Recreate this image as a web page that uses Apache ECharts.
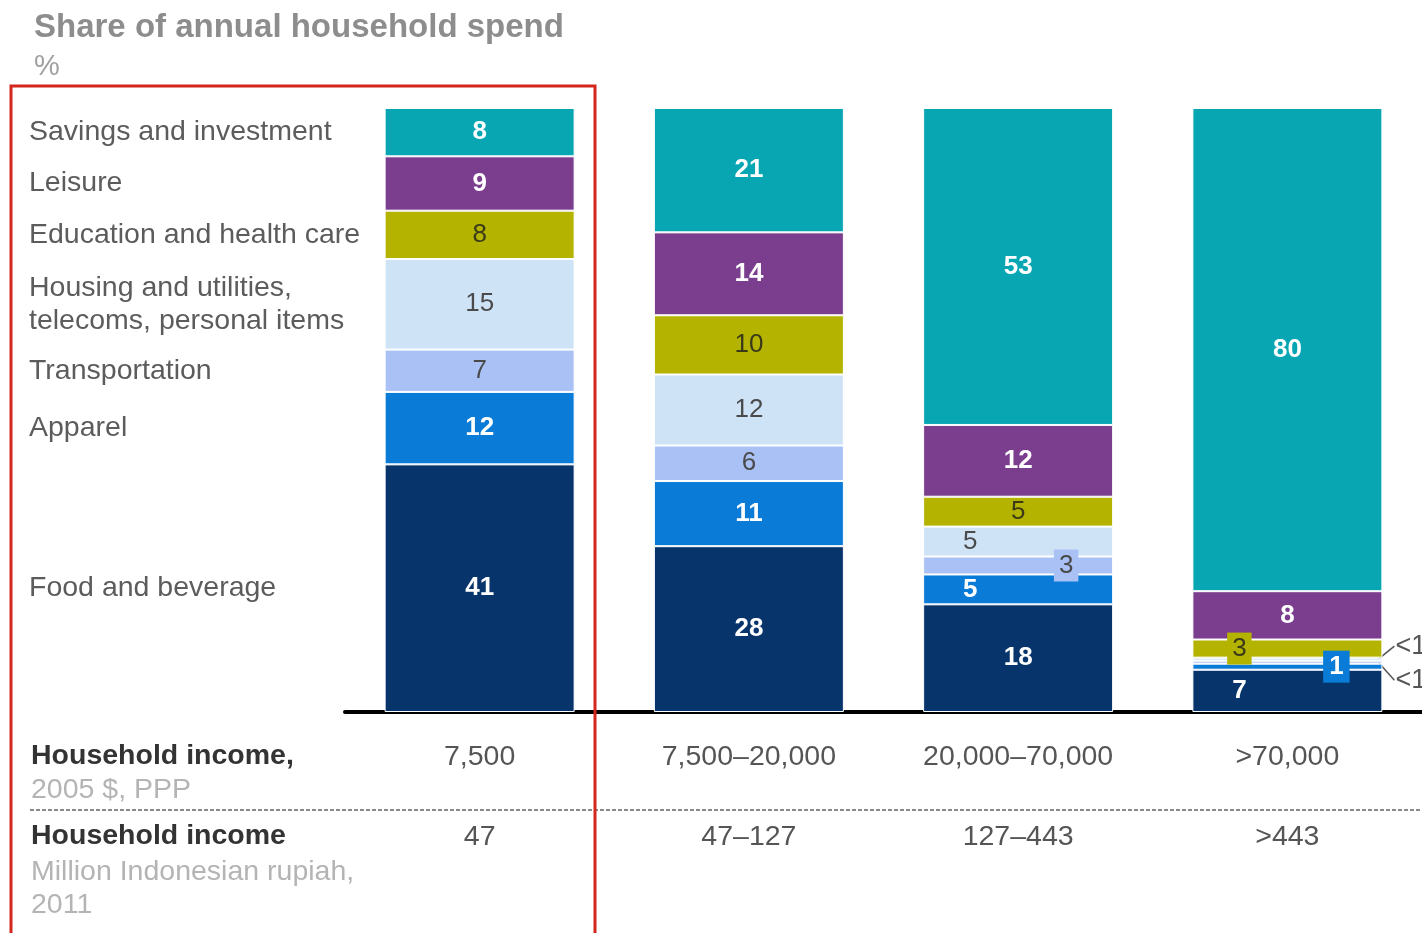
<!DOCTYPE html>
<html>
<head>
<meta charset="utf-8">
<script src="https://cdn.jsdelivr.net/npm/echarts@6/dist/echarts.min.js"></script>
<style>
  html, body { margin: 0; padding: 0; background: #ffffff; }
  #chart { width: 1422px; height: 933px; }
</style>
</head>
<body>
<div id="chart"></div>
<script>
// Household income brackets (x axis) and their rupiah equivalents
const incomeUsd = ['7,500', '7,500\u201320,000', '20,000\u201370,000', '>70,000'];
const incomeIdr = ['47', '47\u2013127', '127\u2013443', '>443'];

// Spending categories, stacked bottom to top
const segmentNames = [
  'Food and beverage',
  'Apparel',
  'Transportation',
  'Housing and utilities,\ntelecoms, personal items',
  'Education and health care',
  'Leisure',
  'Savings and investment'
];

// Share of annual household spend, % (0.5 stands for "<1")
const food           = [41, 28, 18, 7];
const apparel        = [12, 11, 5, 1];
const transportation = [7, 6, 3, 0.5];
const housing        = [15, 12, 5, 0.5];
const education      = [8, 10, 5, 3];
const leisure        = [9, 14, 12, 8];
const savings        = [8, 21, 53, 80];

const seriesValues = [food, apparel, transportation, housing, education, leisure, savings];

// ---- styling ----
const FONT = '"Liberation Sans", Arial, Helvetica, sans-serif';
const palette = ['#06346b', '#0a7bd6', '#a9c1f5', '#cfe3f7', '#b3b300', '#7b3d8e', '#07a6b2'];
const inkLight = { color: '#ffffff', fontWeight: 'bold' };
const inkDark = { color: '#4a4a4a', fontWeight: 'normal' };
const labelInk = [inkLight, inkLight, inkDark, inkDark, { color: '#3a3a18', fontWeight: 'normal' }, inkLight, inkLight];

// Per-cell label tweaks, keyed "series-column"
const labelTweaks = {
  '1-2': { offset: [-48, 0] },
  '2-2': { offset: [48, 0], backgroundColor: '#a9c1f5', padding: [3, 5] },
  '3-2': { offset: [-48, 0] },
  '0-3': { offset: [-48, 0] },
  '1-3': { offset: [49, 0], backgroundColor: '#0a7bd6', padding: [3, 6] },
  '4-3': { offset: [-48, 0], backgroundColor: '#b3b300', padding: [3, 5] }
};

const totals = incomeUsd.map((_, c) => seriesValues.reduce((s, arr) => s + arr[c], 0));
const norm = (v, c) => v / totals[c] * 100;

const series = seriesValues.map((vals, s) => ({
  name: segmentNames[s],
  type: 'bar',
  stack: 'spend',
  barWidth: 190,
  itemStyle: { color: palette[s], borderColor: '#ffffff', borderWidth: 1 },
  label: {
    show: true,
    position: 'inside',
    fontFamily: FONT,
    fontSize: 26,
    color: labelInk[s].color,
    fontWeight: labelInk[s].fontWeight,
    formatter: p => String(p.data.raw)
  },
  data: vals.map((v, c) => {
    const item = { value: norm(v, c), raw: v };
    const tweak = labelTweaks[s + '-' + c];
    if (v < 1) item.label = { show: false };
    else if (tweak) item.label = tweak;
    return item;
  })
}));

const chart = echarts.init(document.getElementById('chart'));

chart.setOption({
  animation: false,
  backgroundColor: '#ffffff',
  title: {
    text: 'Share of annual household spend',
    subtext: '%',
    left: 29,
    top: 6,
    itemGap: 8,
    textStyle: { fontFamily: FONT, fontSize: 33, fontWeight: 'bold', color: '#8d8d8d' },
    subtextStyle: { fontFamily: FONT, fontSize: 29, color: '#a0a0a0' }
  },
  grid: { left: 345, right: 0, top: 108, bottom: 221 },
  xAxis: [
    {
      type: 'category',
      data: incomeUsd,
      axisLine: { show: true, lineStyle: { color: '#000000', width: 4 } },
      axisTick: { show: false },
      axisLabel: { margin: 31, fontFamily: FONT, fontSize: 28.5, color: '#555555' }
    },
    {
      type: 'category',
      data: incomeIdr,
      position: 'bottom',
      offset: 80,
      axisLine: { show: false },
      axisTick: { show: false },
      axisLabel: { margin: 31, fontFamily: FONT, fontSize: 28.5, color: '#555555' }
    }
  ],
  yAxis: { type: 'value', min: 0, max: 100, show: false },
  series: series
});

// Elements placed from the chart's own scales
const toPx = (c, v) => chart.convertToPixel({ gridIndex: 0 }, [c, v]);
const centerOf = (s, c) => {
  let below = 0;
  for (let i = 0; i < s; i++) below += norm(seriesValues[i][c], c);
  return below + norm(seriesValues[s][c], c) / 2;
};

const graphics = [];

// Category names beside the first column
segmentNames.forEach((name, s) => {
  const y = toPx(0, centerOf(s, 0))[1];
  graphics.push({
    type: 'text', x: 29, y: y,
    style: { text: name, font: '28.5px ' + FONT, fill: '#5c5c5c', verticalAlign: 'middle', lineHeight: 33 }
  });
});

// "<1" call-outs on the last column
const lastCol = incomeUsd.length - 1;
const barRight = toPx(lastCol, 0)[0] + 95;
[[3, -13], [2, 18]].forEach(([s, dy]) => {
  const y = toPx(lastCol, centerOf(s, lastCol))[1];
  graphics.push({
    type: 'polyline',
    shape: { points: [[barRight - 4, y], [barRight + 12, y + dy]] },
    style: { stroke: '#555555', lineWidth: 1.5, fill: null }
  });
  graphics.push({
    type: 'text', x: barRight + 13, y: y + dy,
    style: { text: '<1', font: '27px ' + FONT, fill: '#555555', verticalAlign: 'middle' }
  });
});

// Row captions for the income scales
graphics.push(
  { type: 'text', x: 31, y: 756, style: { text: 'Household income,', font: 'bold 28.5px ' + FONT, fill: '#333333', verticalAlign: 'middle' } },
  { type: 'text', x: 31, y: 790, style: { text: '2005 $, PPP', font: '28.5px ' + FONT, fill: '#b4b4b4', verticalAlign: 'middle' } },
  { type: 'text', x: 31, y: 836, style: { text: 'Household income', font: 'bold 28.5px ' + FONT, fill: '#333333', verticalAlign: 'middle' } },
  { type: 'text', x: 31, y: 872, style: { text: 'Million Indonesian rupiah,', font: '28.5px ' + FONT, fill: '#b4b4b4', verticalAlign: 'middle' } },
  { type: 'text', x: 31, y: 905, style: { text: '2011', font: '28.5px ' + FONT, fill: '#b4b4b4', verticalAlign: 'middle' } },
  {
    type: 'line',
    shape: { x1: 30, y1: 810, x2: 1422, y2: 810 },
    style: { stroke: '#8a8a8a', lineWidth: 2, lineDash: [4, 2] }
  },
  // Highlight frame around the first bracket
  {
    type: 'rect',
    shape: { x: 11, y: 86, width: 584, height: 900 },
    style: { fill: null, stroke: '#d3261c', lineWidth: 3 },
    z: 100
  }
);

chart.setOption({ graphic: graphics });
</script>
</body>
</html>
